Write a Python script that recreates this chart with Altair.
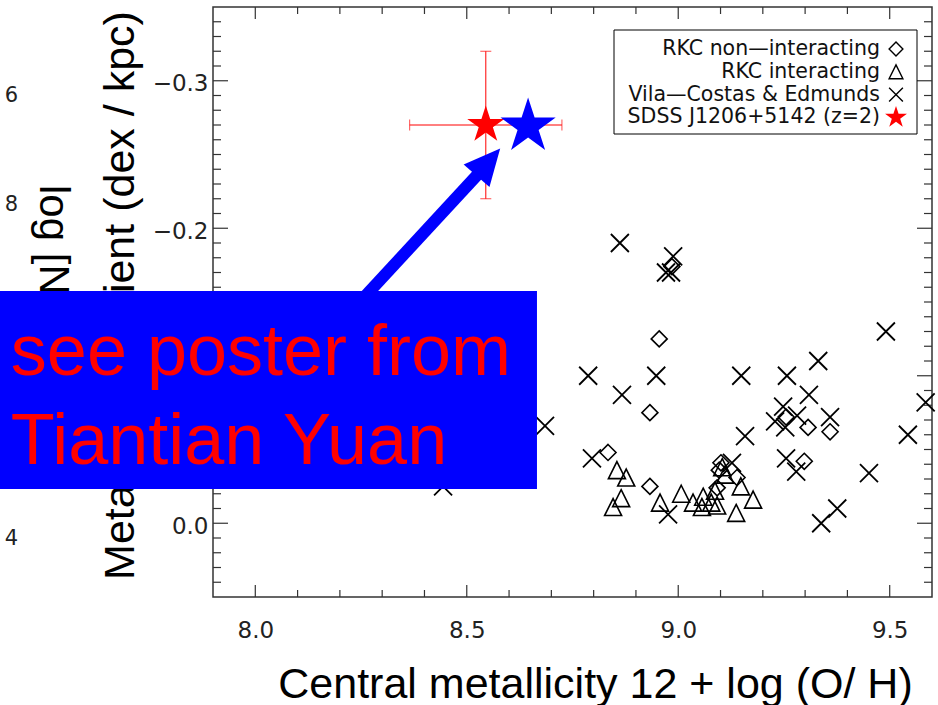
import math
import altair as alt
import pandas as pd

# ---------------- data ----------------
# Vila-Costas & Edmunds (crosses)
vce_x = [8.862, 8.988, 8.983, 8.971, 9.491, 9.331, 8.787, 8.948, 9.149, 9.257,
         8.867, 9.309, 9.248, 9.229, 9.253, 9.281, 9.359, 9.158, 8.685, 9.585,
         9.543, 8.796, 9.255, 9.279, 9.451, 8.976, 9.338, 9.376, 8.444, 9.127]
vce_y = [-0.190, -0.181, -0.170, -0.170, -0.130, -0.110, -0.100, -0.100, -0.100, -0.100,
         -0.087, -0.087, -0.079, -0.069, -0.065, -0.073, -0.072, -0.059, -0.066, -0.082,
         -0.060, -0.044, -0.044, -0.035, -0.034, -0.006, 0.000, -0.010, -0.025, -0.041]

# RKC non-interacting (diamonds)
rkn_x = [8.985, 8.955, 8.933, 8.834, 8.933, 9.101, 9.097, 9.139, 9.307, 9.359,
         9.298, 9.255, 9.092]
rkn_y = [-0.174, -0.125, -0.075, -0.048, -0.025, -0.041, -0.036, -0.031, -0.065, -0.062,
         -0.042, -0.072, -0.024]

# RKC interacting (triangles)
rki_x = [8.855, 8.877, 8.865, 8.846, 8.957, 9.007, 9.035, 9.059, 9.078, 9.092,
         9.087, 9.148, 9.177, 9.137, 9.104, 9.111, 9.056]
rki_y = [-0.036, -0.031, -0.017, -0.011, -0.014, -0.020, -0.014, -0.018, -0.014, -0.012,
         -0.022, -0.025, -0.016, -0.007, -0.038, -0.033, -0.011]

# SDSS J1206+5142 (red star with error bars) and the blue star
sdss_x = [8.545]
sdss_y = [-0.270]
sdss_xerr = [0.18]
sdss_yerr = [0.05]
blue_x = [8.645]
blue_y = [-0.269]

# arrow (shaft start, shaft end, tip) in data units
arrow_x = [8.063, 8.531, 8.579]
arrow_y = [-0.093, -0.238, -0.254]

# overlay box and its text (data units)
box_x = [7.396, 8.666]
box_y = [-0.1575, -0.0232]
note_text = ["see poster from", "Tiantian Yuan"]
note_x = [7.422, 7.422]
note_y = [-0.1005, -0.0402]

# fragments of the neighbouring figure at the far left
frag_text = ["6", "8", "4"]
frag_x = [7.439, 7.439, 7.439]
frag_y = [-0.2897, -0.2158, 0.0107]
frag_title = ["log [NII]/H\u03b1"]
frag_title_x = [7.491]
frag_title_y = [-0.2293]

legend_labels = ["RKC non\u2014interacting", "RKC interacting",
                 "Vila\u2014Costas & Edmunds", "SDSS J1206+5142 (z=2)"]
legend_kind = ["diamond", "triangle", "cross", "star"]

x_major = [8.0, 8.5, 9.0, 9.5]
x_minor = [8.1, 8.2, 8.3, 8.4, 8.6, 8.7, 8.8, 8.9, 9.1, 9.2, 9.3, 9.4]
y_major = [-0.3, -0.2, -0.1, 0.0]
y_labels = [-0.3, -0.2, 0.0]   # the -0.1 label is hidden under the overlay box
y_minor = [v for v in [round(-0.34 + 0.01 * i, 2) for i in range(39)]
           if all(abs(v - m) > 1e-9 for m in y_major)]

# ---------------- symbol paths ----------------
X_PATH = "M-1,-1L1,1M-1,1L1,-1"
DIAMOND = "M0,-1L1,0L0,1L-1,0Z"
TRI = "M0,-1L1,1L-1,1Z"
HEAD = "M0,0L-0.95,2L0.95,2Z"


def star_path(inner=0.382):
    pts = []
    for k in range(10):
        r = 1.0 if k % 2 == 0 else inner
        a = math.radians(-90 + 36 * k)
        pts.append(f"{r * math.cos(a):.4f},{r * math.sin(a):.4f}")
    return "M" + "L".join(pts) + "Z"


STAR = star_path()

W, H = 719, 590

xs = alt.Scale(domain=[7.9, 9.6], nice=False, zero=False)
ys = alt.Scale(domain=[-0.35, 0.05], nice=False, zero=False, reverse=True)

xa = alt.Axis(values=x_major, format=".1f", ticks=False, tickSize=0, domain=False,
              grid=False, labelFont="DejaVu Sans", labelFontSize=23, labelColor="#222",
              labelPadding=22, labelFlush=False, labelOverlap=False,
              title="Central metallicity 12 + log (O/ H)", titleFont="Liberation Sans",
              titleFontSize=43, titleFontWeight="normal", titleColor="black",
              titleX=382, titleY=100, titleAlign="center", titleBaseline="alphabetic",
              titleAngle=0)
ya = alt.Axis(values=y_labels, format=".1f", ticks=False, tickSize=0, domain=False,
              grid=False, labelFont="DejaVu Sans", labelFontSize=23, labelColor="#222",
              labelPadding=5, labelOffset=3, labelFlush=False, labelOverlap=False,
              title="Metallicity gradient (dex / kpc)", titleFont="Liberation Sans",
              titleFontSize=43, titleFontWeight="normal", titleColor="black",
              titleX=-80, titleY=288, titleAngle=270, titleAlign="center",
              titleBaseline="alphabetic")


def X(f):
    return alt.X(f, type="quantitative", scale=xs, axis=xa)


def Y(f):
    return alt.Y(f, type="quantitative", scale=ys, axis=ya)


# ---------------- layers ----------------
frag_df = pd.DataFrame({"t": frag_text, "x": frag_x, "y": frag_y})
frag = alt.Chart(frag_df).mark_text(align="right", baseline="middle", font="DejaVu Sans",
                                    fontSize=21, color="#222").encode(x=X("x"), y=Y("y"), text="t:N")
fragt_df = pd.DataFrame({"t": frag_title, "x": frag_title_x, "y": frag_title_y})
fragt = alt.Chart(fragt_df).mark_text(align="left", baseline="alphabetic", angle=90,
                                      font="Liberation Sans", fontSize=42,
                                      color="black").encode(x=X("x"), y=Y("y"), text="t:N")

tick_col = "#333"
xmaj_df = pd.DataFrame({"v": x_major})
xmin_df = pd.DataFrame({"v": x_minor})
ymaj_df = pd.DataFrame({"v": y_major})
ymin_df = pd.DataFrame({"v": y_minor})
ticks = [
    alt.Chart(xmaj_df).mark_rule(color=tick_col, strokeWidth=1.2).encode(x=X("v"), y=alt.value(H), y2=alt.value(H - 12)),
    alt.Chart(xmaj_df).mark_rule(color=tick_col, strokeWidth=1.2).encode(x=X("v"), y=alt.value(0), y2=alt.value(12)),
    alt.Chart(xmin_df).mark_rule(color=tick_col, strokeWidth=1.2).encode(x=X("v"), y=alt.value(H), y2=alt.value(H - 7)),
    alt.Chart(xmin_df).mark_rule(color=tick_col, strokeWidth=1.2).encode(x=X("v"), y=alt.value(0), y2=alt.value(7)),
    alt.Chart(ymaj_df).mark_rule(color=tick_col, strokeWidth=1.2).encode(y=Y("v"), x=alt.value(0), x2=alt.value(15)),
    alt.Chart(ymaj_df).mark_rule(color=tick_col, strokeWidth=1.2).encode(y=Y("v"), x=alt.value(W), x2=alt.value(W - 15)),
    alt.Chart(ymin_df).mark_rule(color=tick_col, strokeWidth=1.2).encode(y=Y("v"), x=alt.value(0), x2=alt.value(8)),
    alt.Chart(ymin_df).mark_rule(color=tick_col, strokeWidth=1.2).encode(y=Y("v"), x=alt.value(W), x2=alt.value(W - 8)),
]

vce = alt.Chart(pd.DataFrame({"x": vce_x, "y": vce_y})).mark_point(
    shape=X_PATH, size=324, filled=False, color="black", strokeWidth=1.8, opacity=1
).encode(x=X("x"), y=Y("y"))
rkn = alt.Chart(pd.DataFrame({"x": rkn_x, "y": rkn_y})).mark_point(
    shape=DIAMOND, size=256, filled=False, color="black", strokeWidth=1.6, opacity=1
).encode(x=X("x"), y=Y("y"))
rki = alt.Chart(pd.DataFrame({"x": rki_x, "y": rki_y})).mark_point(
    shape=TRI, size=289, filled=False, color="black", strokeWidth=1.6, opacity=1
).encode(x=X("x"), y=Y("y"))

sdss_df = pd.DataFrame({"x": sdss_x, "y": sdss_y,
                        "xlo": [a - b for a, b in zip(sdss_x, sdss_xerr)],
                        "xhi": [a + b for a, b in zip(sdss_x, sdss_xerr)],
                        "ylo": [a - b for a, b in zip(sdss_y, sdss_yerr)],
                        "yhi": [a + b for a, b in zip(sdss_y, sdss_yerr)]})
ebar_h = alt.Chart(sdss_df).mark_rule(color="red", strokeWidth=1).encode(x=X("xlo"), x2="xhi", y=Y("y"))
ebar_v = alt.Chart(sdss_df).mark_rule(color="red", strokeWidth=1).encode(x=X("x"), y=Y("ylo"), y2="yhi")
cap_l = alt.Chart(sdss_df).mark_tick(color="red", orient="vertical", size=11, thickness=1).encode(x=X("xlo"), y=Y("y"))
cap_r = alt.Chart(sdss_df).mark_tick(color="red", orient="vertical", size=11, thickness=1).encode(x=X("xhi"), y=Y("y"))
cap_b = alt.Chart(sdss_df).mark_tick(color="red", orient="horizontal", size=11, thickness=1).encode(x=X("x"), y=Y("ylo"))
cap_t = alt.Chart(sdss_df).mark_tick(color="red", orient="horizontal", size=11, thickness=1).encode(x=X("x"), y=Y("yhi"))
red_star = alt.Chart(sdss_df).mark_point(shape=STAR, size=1521, filled=True, color="red",
                                          opacity=1).encode(x=X("x"), y=Y("y"))
blue_star = alt.Chart(pd.DataFrame({"x": blue_x, "y": blue_y})).mark_point(
    shape=STAR, size=3364, filled=True, color="#0000ff", opacity=1).encode(x=X("x"), y=Y("y"))

shaft_df = pd.DataFrame({"x": [arrow_x[0]], "x2": [arrow_x[1]], "y": [arrow_y[0]], "y2": [arrow_y[1]]})
shaft = alt.Chart(shaft_df).mark_rule(color="#0000ff", strokeWidth=12, strokeCap="butt").encode(
    x=X("x"), x2="x2", y=Y("y"), y2="y2")
head = alt.Chart(pd.DataFrame({"x": [arrow_x[2]], "y": [arrow_y[2]]})).mark_point(
    shape=HEAD, size=1296, angle=41, filled=True, color="#0000ff", opacity=1).encode(x=X("x"), y=Y("y"))

box_df = pd.DataFrame({"x": [box_x[0]], "x2": [box_x[1]], "y": [box_y[0]], "y2": [box_y[1]]})
box = alt.Chart(box_df).mark_rect(color="#0000ff", opacity=1).encode(x=X("x"), x2="x2", y=Y("y"), y2="y2")
note_df = pd.DataFrame({"t": note_text, "x": note_x, "y": note_y})
note = alt.Chart(note_df).mark_text(align="left", baseline="alphabetic", font="Liberation Sans",
                                    fontSize=72, color="#ff0000").encode(x=X("x"), y=Y("y"), text="t:N")

# legend (manual, symbols to the right of right-aligned labels)
leg_df = pd.DataFrame({"label": legend_labels, "kind": legend_kind})
leg_base = alt.Chart(leg_df).transform_window(idx="row_number()").transform_calculate(
    ly="42 + 22.8 * (datum.idx - 1)")
leg_frame = alt.Chart(pd.DataFrame({"k": [0]})).mark_rect(fill="white", stroke="black", strokeWidth=1).encode(
    x=alt.value(401), x2=alt.value(704), y=alt.value(23), y2=alt.value(127))
leg_text = leg_base.mark_text(align="right", baseline="middle", font="DejaVu Sans", fontSize=20.5,
                              color="#111").encode(x=alt.value(667), y=alt.Y("ly:Q", scale=None), text="label:N")
leg_sym = leg_base.transform_filter("datum.kind != 'star'").mark_point(
    filled=False, size=190, color="black", strokeWidth=1.4, opacity=1).encode(
    x=alt.value(683), y=alt.Y("ly:Q", scale=None),
    shape=alt.Shape("kind:N", scale=alt.Scale(domain=["diamond", "triangle", "cross"],
                                              range=[DIAMOND, TRI, X_PATH]), legend=None))
leg_star = leg_base.transform_filter("datum.kind == 'star'").mark_point(
    shape=STAR, size=529, filled=True, color="red", opacity=1).encode(
    x=alt.value(683), y=alt.Y("ly:Q", scale=None))

chart = alt.layer(
    frag, fragt, *ticks, rkn, rki, vce,
    ebar_h, ebar_v, cap_l, cap_r, cap_b, cap_t, red_star, blue_star,
    shaft, head, box, note, leg_frame, leg_text, leg_sym, leg_star
).properties(
    width=W, height=H,
    autosize=alt.AutoSizeParams(type="none"),
    padding={"left": 213, "top": 7, "right": 6, "bottom": 108},
    background="white",
).configure_view(stroke="#333", strokeWidth=1.5)

chart.save("out.html", embed_options={"renderer": "svg", "actions": False})
